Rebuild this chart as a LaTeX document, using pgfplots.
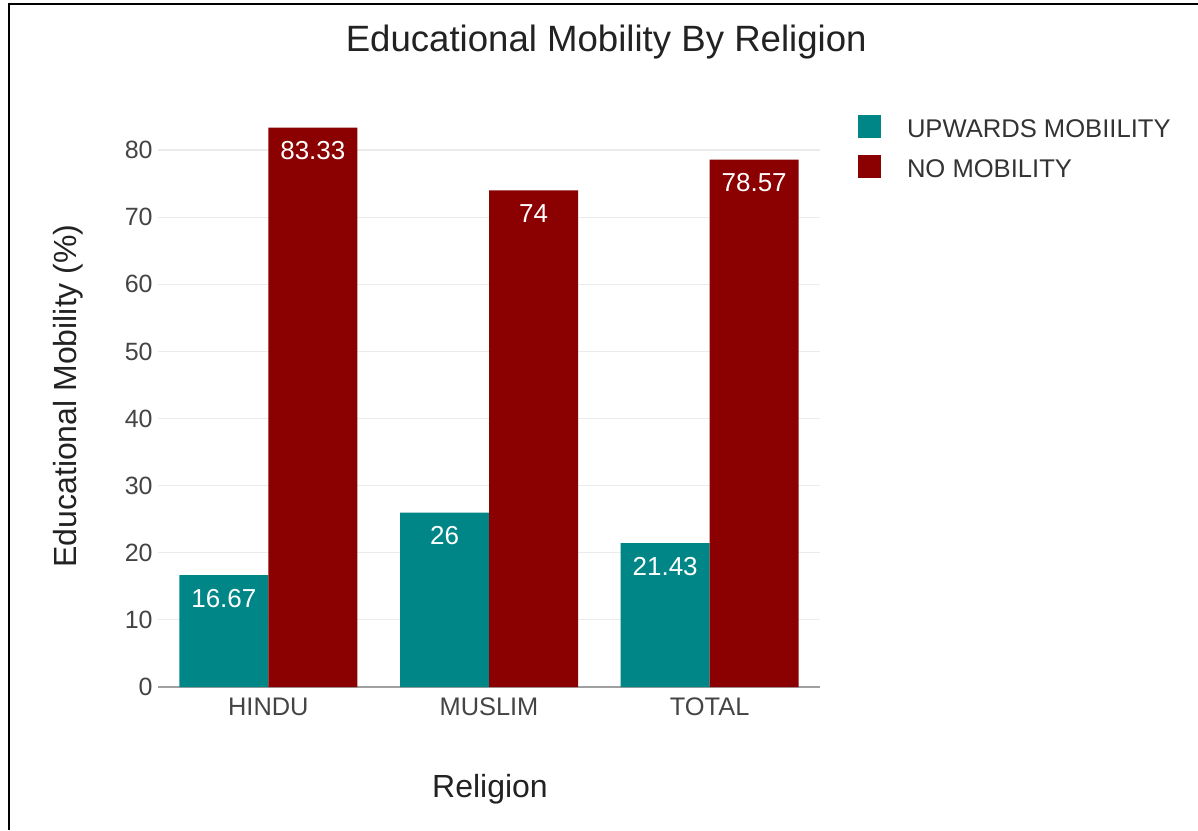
\documentclass[border=0pt]{standalone}
\usepackage{pgfplots}
\pgfplotsset{compat=1.18}
\usepackage{fontspec}
\setmainfont{Liberation Sans}

\definecolor{upteal}{RGB}{0,134,134}
\definecolor{nored}{RGB}{139,0,0}
\definecolor{gridgray}{RGB}{235,235,235}
\definecolor{basegray}{RGB}{160,160,160}
\definecolor{ticktext}{RGB}{68,68,68}
\definecolor{legendtext}{RGB}{51,51,51}
\definecolor{titletext}{RGB}{34,34,34}

% square legend swatch
\pgfplotsset{
  square legend/.style={
    legend image code/.code={\fill[##1] (0pt,-4pt) rectangle (11.5pt,7.5pt);}
  }
}

\begin{document}
\begin{tikzpicture}
\useasboundingbox (0,0) rectangle (599pt,415pt);
% frame edge
\draw[line width=1.2pt] (4.5pt,0) -- (4.5pt,413pt) -- (599pt,413pt);
\begin{axis}[
  at={(79pt,71.5pt)}, anchor=south west,
  scale only axis, width=331pt, height=291.96pt,
  xmin=-0.5, xmax=2.5, ymin=0, ymax=87,
  ybar=0pt, bar width=44.5pt,
  xtick={0,1,2}, xticklabels={HINDU,MUSLIM,TOTAL},
  ytick={0,10,...,80},
  major tick length=0pt,
  /pgf/number format/assume math mode=true,
  ymajorgrids, grid style={gridgray, line width=0.6pt},
  axis lines*=left,
  y axis line style={draw=none},
  x axis line style={basegray, line width=1pt},
  yticklabel style={anchor=east, inner sep=0pt, xshift=-2.5pt,
    font=\fontsize{12.5}{15}\selectfont, text=ticktext},
  xticklabel style={anchor=base, yshift=-14pt,
    font=\fontsize{12.7}{15}\selectfont, text=ticktext},
  every axis title shift=0pt,
  title={Educational Mobility By Religion},
  title style={at={(axis description cs:0.677,1.0877)}, anchor=base,
    font=\fontsize{18.3}{22}\selectfont, text=titletext},
  xlabel={Religion},
  xlabel style={at={(axis description cs:0.5015,-0.190)}, anchor=base,
    font=\fontsize{16}{19}\selectfont, text=titletext},
  ylabel={Educational Mobility (\%)},
  ylabel style={at={(axis description cs:-0.1224,0.4985)}, anchor=base,
    font=\fontsize{16}{19}\selectfont, text=titletext},
  nodes near coords,
  every node near coord/.append style={anchor=base, yshift=-16pt,
    font=\fontsize{13}{15}\selectfont, text=white},
  legend style={at={(axis description cs:1.0574,0.9798)}, anchor=north west,
    draw=none, fill=none, inner sep=0pt, outer sep=0pt, row sep=7.25pt,
    font=\fontsize{12.8}{15}\selectfont, text=legendtext,
    nodes={inner sep=0pt},
    /tikz/every odd column/.append style={column sep=13pt}},
  legend cell align=left,
]
\addplot[fill=upteal, draw=none, square legend]
  coordinates {(0,16.67) (1,26) (2,21.43)};
\addplot[fill=nored, draw=none, square legend]
  coordinates {(0,83.33) (1,74) (2,78.57)};
\legend{UPWARDS MOBIILITY, NO MOBILITY}
\end{axis}
\end{tikzpicture}
\end{document}
